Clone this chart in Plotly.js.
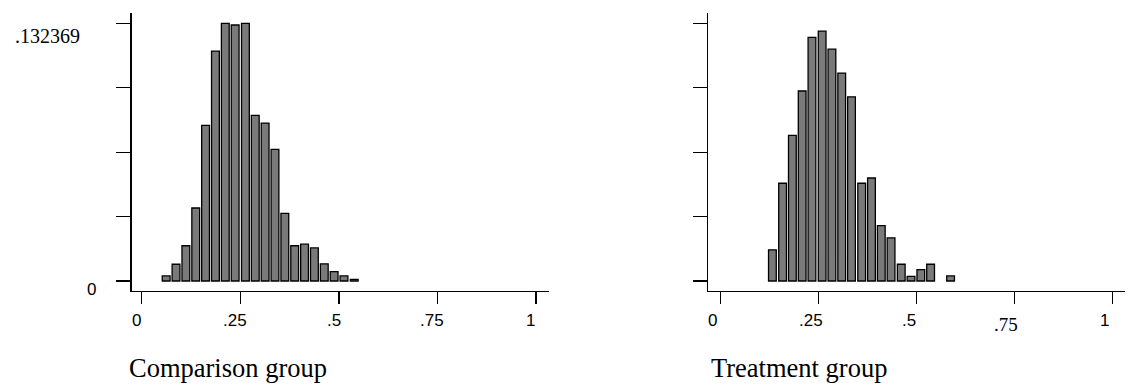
<!DOCTYPE html>
<html>
<head>
<meta charset="utf-8">
<script src="https://cdn.plot.ly/plotly-3.0.1.min.js"></script>
<style>html,body{margin:0;padding:0;background:#fff;}#chart{width:1129px;height:390px;}</style>
</head>
<body>
<div id="chart"></div>
<script>
// ---- data ----
const compBinCenters = [0.062, 0.087, 0.112, 0.137, 0.162, 0.187, 0.212, 0.237, 0.263, 0.288,
                        0.313, 0.338, 0.363, 0.388, 0.413, 0.438, 0.463, 0.488, 0.513, 0.539];
const compDensity    = [0.0026, 0.0086, 0.0181, 0.0375, 0.0799, 0.1181, 0.132369, 0.1315, 0.132369, 0.0851,
                        0.0811, 0.0676, 0.0347, 0.0181, 0.0189, 0.0170, 0.0088, 0.0048, 0.0026, 0.0008];
const treatBinCenters = [0.132, 0.158, 0.183, 0.208, 0.233, 0.259, 0.284, 0.309, 0.334, 0.360,
                         0.385, 0.410, 0.435, 0.461, 0.486, 0.511, 0.536, 0.587];
const treatDensity    = [0.0160, 0.0502, 0.0748, 0.0976, 0.1251, 0.1284, 0.1191, 0.1068, 0.0946, 0.0502,
                         0.0529, 0.0284, 0.0222, 0.0086, 0.0024, 0.0058, 0.0086, 0.0026];
const xTickVals   = [0, 0.25, 0.5, 0.75, 1];
const xTickLabels = ['0', '.25', '.5', '.75', '1'];
const yTickVals   = [0, 0.0330923, 0.0661845, 0.0992768, 0.132369];
const yTickLabels = ['0', '', '', '', '.132369'];
const panelTitles = ['Comparison group', 'Treatment group'];

// ---- layout helpers ----
const W = 1129, H = 390;
const px = x => x / W;
const py = y => (H - y) / H;
const SANS = 'Liberation Sans, Arial, sans-serif';
const SERIF = 'Liberation Serif, Times New Roman, serif';

const yDom = [py(291), py(13)];
const yRange = [-0.00514, 0.13766];

function xAxis(dom, range, anchor) {
  return {domain: dom, range: range, anchor: anchor, showline: true, linecolor: '#000', linewidth: 1.3,
          ticks: 'outside', ticklen: 12, tickwidth: 1.3, tickcolor: '#000', tickvals: xTickVals,
          showticklabels: false, showgrid: false, zeroline: false, fixedrange: true};
}
function yAxis(anchor) {
  return {domain: yDom, range: yRange, anchor: anchor, showline: true, linecolor: '#000', linewidth: 1.3,
          ticks: 'outside', ticklen: 14, tickwidth: 1.3, tickcolor: '#000', tickvals: yTickVals,
          showticklabels: false, showgrid: false, zeroline: false, fixedrange: true};
}

const barStyle = {color: '#7a7a7a', line: {color: '#000', width: 1.3}};
const traces = [
  {type: 'bar', x: compBinCenters, y: compDensity, width: 0.0198, marker: barStyle, xaxis: 'x', yaxis: 'y', hoverinfo: 'skip'},
  {type: 'bar', x: treatBinCenters, y: treatDensity, width: 0.0198, marker: barStyle, xaxis: 'x2', yaxis: 'y2', hoverinfo: 'skip'}
];

const annotations = [];
// x tick labels
const panels = [{xref: 'x', shift: -5}, {xref: 'x2', shift: -8}];
panels.forEach((p, pi) => {
  xTickVals.forEach((v, i) => {
    const serifLbl = (pi === 1 && xTickLabels[i] === '.75');
    annotations.push({xref: p.xref, yref: 'paper', x: v, y: yDom[0], xanchor: 'center', yanchor: 'middle',
      yshift: serifLbl ? -33 : -29.5, xshift: p.shift, showarrow: false, text: xTickLabels[i],
      font: {family: serifLbl ? SERIF : SANS, size: serifLbl ? 19 : 17, color: '#000'}});
  });
});
// y tick labels (left panel only)
yTickVals.forEach((v, i) => {
  if (!yTickLabels[i]) return;
  const isZero = (v === 0);
  annotations.push({xref: 'paper', yref: 'y', x: isZero ? px(98) : px(82), y: v, xanchor: 'right', yanchor: 'middle',
    yshift: isZero ? -9 : -13, showarrow: false, text: yTickLabels[i],
    font: {family: isZero ? SANS : SERIF, size: isZero ? 17 : 20, color: '#000'}});
});
// panel captions
[[127, panelTitles[0]], [709, panelTitles[1]]].forEach(([x, t]) => {
  annotations.push({xref: 'paper', yref: 'paper', x: px(x), y: py(368), xanchor: 'left', yanchor: 'middle',
    showarrow: false, text: t, font: {family: SERIF, size: 26.5, color: '#000'}});
});

const layout = {
  width: W, height: H, margin: {l: 0, r: 0, t: 0, b: 0},
  paper_bgcolor: '#fff', plot_bgcolor: '#fff', showlegend: false, bargap: 0,
  xaxis: xAxis([px(131.7), px(549)], [-0.0254, 1.033], 'y'),
  yaxis: yAxis('x'),
  xaxis2: xAxis([px(708.3), px(1125)], [-0.0317, 1.0324], 'y2'),
  yaxis2: yAxis('x2'),
  annotations: annotations
};

Plotly.newPlot('chart', traces, layout, {staticPlot: true, displayModeBar: false});
</script>
</body>
</html>
